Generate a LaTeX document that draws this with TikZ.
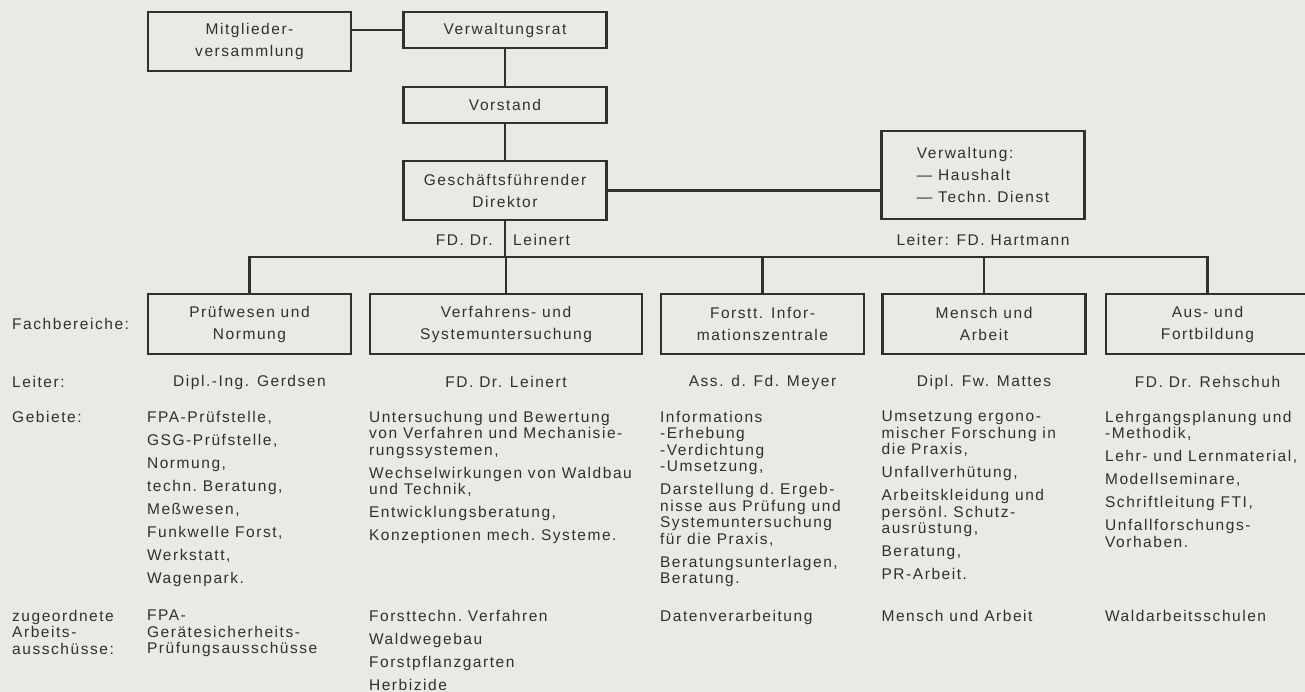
\documentclass[tikz,border=0pt]{standalone}
\usepackage{fontspec}
\setmainfont{Liberation Sans}[LetterSpace=10]
\usetikzlibrary{positioning}

\definecolor{paper}{RGB}{233,233,229}
\definecolor{ink}{RGB}{48,48,48}

\newcommand{\itemgap}{\\[6.5pt]}

\begin{document}
\begin{tikzpicture}[x = 1pt, y = -1pt,
	every node/.style = {font = \fontsize{15.5}{16.5}\selectfont, text = ink, inner sep = 0pt},
	unit/.style = {draw = ink, line width = 2.2pt, minimum width = 203pt, align = center,
		font = \fontsize{15.5}{22}\selectfont},
	wire/.style = {draw = ink, line width = 2.2pt},
	txt/.style = {anchor = north west, align = left}]

	% Paper
	
	\useasboundingbox (0, 0) rectangle (1305, 692);
	\fill [paper] (0, 0) rectangle (1305, 692);
	
	% Upper boxes
	
	\node [unit, minimum height = 59pt] (mitglied) at (249.5, 41.5) {Mitglieder-\\versammlung};
	\node [unit, minimum height = 36pt] (vrat) at (505, 30) {Verwaltungsrat};
	\node [unit, minimum height = 36pt] (vorstand) at (505, 105) {Vorstand};
	\node [unit, minimum height = 59pt] (gf) at (505, 190.5) {Geschäftsführender\\Direktor};
	\node [unit, minimum height = 88pt, align = left] (verw) at (983, 175) {Verwaltung:\\— Haushalt\\— Techn.\ Dienst};
	
	\node [anchor = east] (gfl) at (493, 240) {FD. Dr.};
	\node [anchor = west] (gfr) at (513, 240) {Leinert};
	\node (verwl) at (983, 240) {Leiter: FD. Hartmann};
	
	% Fachbereiche
	
	\node [unit, minimum height = 60pt] (pruef) at (249.5, 324) {Prüfwesen und\\Normung};
	\node [unit, minimum height = 60pt, minimum width = 272pt] (verf) at (506, 324) {Verfahrens- und\\Systemuntersuchung};
	\node [unit, minimum height = 60pt] (forst) at (762.5, 324) {Forstt. Infor-\\mationszentrale};
	\node [unit, minimum height = 60pt] (mensch) at (984, 324) {Mensch und\\Arbeit};
	\node [unit, minimum height = 60pt] (aus) at (1207.5, 324) {Aus- und\\Fortbildung};
	
	% Connectors
	
	\draw [wire] (vrat.west) -- (vrat.west -| mitglied.east);
	\draw [wire] (vrat.south) -- (vorstand.north);
	\draw [wire] (vorstand.south) -- (gf.north);
	\draw [wire] (gf.east) -- (gf.east -| verw.west);
	\coordinate (bus) at (505, 257);
	\draw [wire] (gf.south) -- (bus);
	\draw [wire] (pruef.north) |- (bus) -| (aus.north);
	\foreach \b in {verf, forst, mensch}
		\draw [wire] (\b.north) -- (\b.north |- bus);
	
	% Row labels
	
	\node [anchor = west] (lfach) at (12, 324) {Fachbereiche:};
	\node [anchor = west] (lleiter) at (12, 382) {Leiter:};
	\node [txt] (lgeb) at (12, 411) {Gebiete:};
	\node [txt] (lzug) at (12, 610) {zugeordnete\\Arbeits-\\ausschüsse:};
	
	% Leiter
	
	\foreach \b/\n in {pruef/Dipl.-Ing. Gerdsen, verf/FD. Dr. Leinert, forst/Ass. d. Fd. Meyer,
		mensch/Dipl. Fw. Mattes, aus/FD. Dr. Rehschuh}
		\node (leit-\b) at (\b |- 0, 382) {\n};
	
	% Gebiete
	
	\node [txt] (geb-pruef) at (pruef.west |- 0, 411) {FPA-Prüfstelle,\itemgap GSG-Prüfstelle,\itemgap Normung,\itemgap techn.\ Beratung,\itemgap Meßwesen,\itemgap Funkwelle Forst,\itemgap Werkstatt,\itemgap Wagenpark.};
	\node [txt] (geb-verf) at (verf.west |- 0, 411) {Untersuchung und Bewertung\\von Verfahren und Mechanisie-\\rungssystemen,\itemgap Wechselwirkungen von Waldbau\\und Technik,\itemgap Entwicklungsberatung,\itemgap Konzeptionen mech.\ Systeme.};
	\node [txt] (geb-forst) at (forst.west |- 0, 411) {Informations\\-Erhebung\\-Verdichtung\\-Umsetzung,\itemgap Darstellung d.\ Ergeb-\\nisse aus Prüfung und\\Systemuntersuchung\\für die Praxis,\itemgap Beratungsunterlagen,\\Beratung.};
	\node [txt] (geb-mensch) at (mensch.west |- 0, 411) {Umsetzung ergono-\\mischer Forschung in\\die Praxis,\itemgap Unfallverhütung,\itemgap Arbeitskleidung und\\persönl.\ Schutz-\\ausrüstung,\itemgap Beratung,\itemgap PR-Arbeit.};
	\node [txt] (geb-aus) at (aus.west |- 0, 411) {Lehrgangsplanung und\\-Methodik,\itemgap Lehr- und Lernmaterial,\itemgap Modellseminare,\itemgap Schriftleitung FTI,\itemgap Unfallforschungs-\\Vorhaben.};
	
	% Arbeitsausschuesse
	
	\node [txt] (zug-pruef) at (pruef.west |- 0, 610) {FPA-\\Gerätesicherheits-\\Prüfungsausschüsse};
	\node [txt] (zug-verf) at (verf.west |- 0, 610) {Forsttechn.\ Verfahren\itemgap Waldwegebau\itemgap Forstpflanzgarten\itemgap Herbizide};
	\node [txt] (zug-forst) at (forst.west |- 0, 610) {Datenverarbeitung};
	\node [txt] (zug-mensch) at (mensch.west |- 0, 610) {Mensch und Arbeit};
	\node [txt] (zug-aus) at (aus.west |- 0, 610) {Waldarbeitsschulen};
	
\end{tikzpicture}
\end{document}
